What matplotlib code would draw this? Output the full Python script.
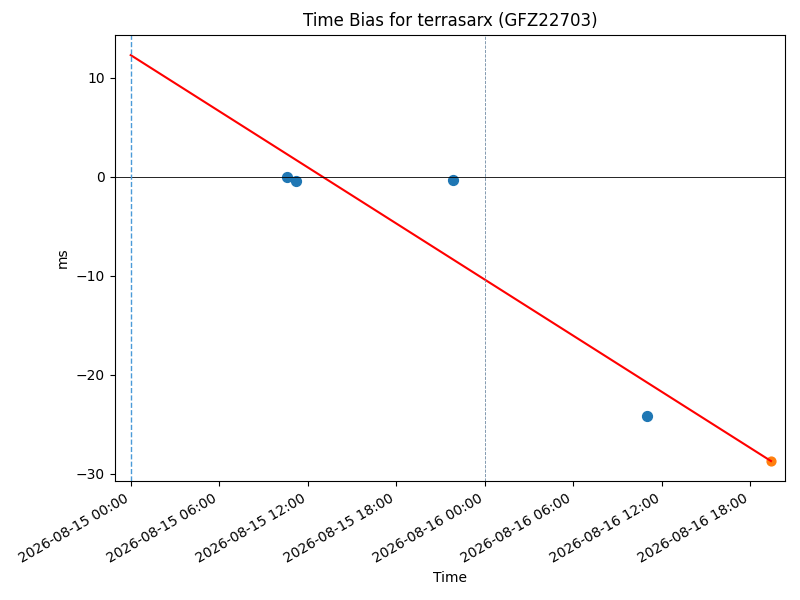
import numpy as np
import pandas as pd
import matplotlib
matplotlib.use('Agg')
import matplotlib.pyplot as plt
import matplotlib.dates as mdates

# measured biases (ms)
obs_times = pd.to_datetime(['2026-08-15 10:37', '2026-08-15 11:13',
                            '2026-08-15 21:50', '2026-08-16 10:58'])
obs_bias = [0.0, -0.4, -0.3, -24.2]

# predicted point
pred_time = pd.to_datetime(['2026-08-16 19:24'])
pred_bias = [-28.7]

# fitted trend
fit_times = pd.to_datetime(['2026-08-15 00:00', '2026-08-16 19:24'])
fit_bias = [12.3, -28.7]

epoch = pd.Timestamp('2026-08-15 00:00')
midnight = pd.Timestamp('2026-08-16 00:00')

fig, ax = plt.subplots(figsize=(8, 6), dpi=100)
ax.plot(fit_times, fit_bias, color='red')
ax.scatter(obs_times, obs_bias, s=50)
ax.scatter(pred_time, pred_bias, s=40)
ax.axhline(0, color='black', linewidth=0.6)
ax.plot([epoch, epoch], [0, 1], color='#4a9ad8', linestyle='--', linewidth=1.0,
        transform=ax.get_xaxis_transform())
ax.plot([midnight, midnight], [0, 1], color='#6f8aa3', linestyle='--', linewidth=0.6,
        transform=ax.get_xaxis_transform())

ax.set_xlim(pd.Timestamp('2026-08-14 22:55'), pd.Timestamp('2026-08-16 20:21'))
ax.set_ylim(-30.75, 14.35)
ax.xaxis.set_major_locator(mdates.HourLocator(byhour=[0, 6, 12, 18]))
ax.xaxis.set_major_formatter(mdates.DateFormatter('%Y-%m-%d %H:%M'))
fig.autofmt_xdate()

ax.set_title('Time Bias for terrasarx (GFZ22703)')
ax.set_xlabel('Time')
ax.set_ylabel('ms')
fig.tight_layout()
fig.subplots_adjust(top=0.942)
fig.savefig('out.png')
